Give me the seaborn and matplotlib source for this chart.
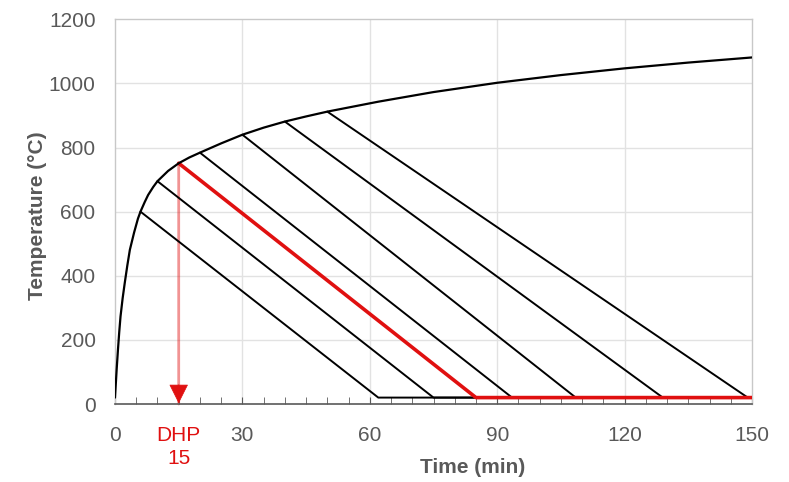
import matplotlib
matplotlib.use("Agg")
import matplotlib.pyplot as plt
import seaborn as sns
import numpy as np
import pandas as pd

# Heating curve
heat_time = [0, 0.4, 0.7, 1.0, 1.3, 1.8, 2.3, 2.9, 3.5, 4.5, 5.4, 6.0, 7.0, 7.8, 9.0, 10.0, 12.5, 15.0, 17.5, 20.0, 25.0, 30.0, 35.0, 40.0, 45.0, 50.0, 62.0, 75.0, 90.0, 105.0, 120.0, 135.0, 150.0]
heat_temp = [20, 110, 170, 225, 273, 330, 378, 432, 481, 535, 578, 600, 630, 652, 677, 695, 727, 751, 769, 784, 813, 840, 862, 881, 897, 912, 943, 973, 1002, 1026, 1047, 1065, 1081]

# Cooling branches: start of cooling (time, temp) and time at which ambient is reached
cool_start_time = [6, 10, 15, 20, 30, 40, 50]
cool_start_temp = [600, 695, 751, 784, 840, 881, 912]
cool_end_time = [62, 75, 85, 93.5, 108.5, 129, 149]
ambient = 20
end_time = 150
dhp = 15

x_ticks = [0, 30, 60, 90, 120, 150]
y_ticks = [0, 200, 400, 600, 800, 1000, 1200]

sns.set_style("white")
plt.rcParams['font.family'] = ['Liberation Sans', 'DejaVu Sans']

RED = "#e01010"
GRAY = "#595959"

fig = plt.figure(figsize=(7.89, 4.82), dpi=100)
ax = fig.add_axes([115/789, 1-404/482, 637/789, (404-19.3)/482])

# grid
for xv in x_ticks[1:-1]:
    ax.axvline(xv, color="#e2e2e2", lw=1, zorder=0)
for yv in y_ticks[1:-1]:
    ax.axhline(yv, color="#e2e2e2", lw=1, zorder=0)

# cooling branches
for st, sT, et in zip(cool_start_time, cool_start_temp, cool_end_time):
    is_dhp = st == dhp
    df = pd.DataFrame({"time": [st, et, end_time], "temp": [sT, ambient, ambient]})
    sns.lineplot(data=df, x="time", y="temp", sort=False, ax=ax,
                 color=RED if is_dhp else "black",
                 lw=2.6 if is_dhp else 1.4, zorder=4 if is_dhp else 3)

# heating curve
sns.lineplot(x=heat_time, y=heat_temp, sort=False, ax=ax, color="black", lw=1.6, zorder=5)

# DHP arrow
i = cool_start_time.index(dhp)
ax.annotate("", xy=(dhp, 0), xytext=(dhp, cool_start_temp[i]),
            arrowprops=dict(arrowstyle="-", color=RED, lw=2, alpha=0.45, shrinkA=0, shrinkB=0), zorder=2)
ax.annotate("", xy=(dhp, 2), xytext=(dhp, 60),
            arrowprops=dict(arrowstyle="-|>,head_length=0.9,head_width=0.45", color=RED, lw=0.5,
                            mutation_scale=14, shrinkA=0, shrinkB=0), zorder=6)

ax.set_xlim(0, 150)
ax.set_ylim(0, 1200)
ax.set_xticks(x_ticks)
ax.set_xticks(np.arange(0, 151, 5), minor=True)
ax.set_yticks(y_ticks)
ax.tick_params(axis="x", which="both", direction="in", length=5, color=GRAY, pad=16,
               labelsize=15, labelcolor=GRAY, bottom=True)
ax.tick_params(axis="y", length=0, pad=14, labelsize=15, labelcolor=GRAY)

ax.text(dhp, -0.057, f"DHP\n{dhp}", transform=ax.get_xaxis_transform(), ha="center", va="top",
        color=RED, fontsize=15, linespacing=1.3)

ax.set_xlabel("Time (min)", fontsize=15, fontweight="bold", color=GRAY)
ax.set_ylabel("Temperature (\u00b0C)", fontsize=15, fontweight="bold", color=GRAY)
ax.xaxis.set_label_coords((473-115)/637, -0.14)
ax.yaxis.set_label_coords(-0.107, 0.49)

for s in ["left", "top", "right"]:
    ax.spines[s].set_color("#c8c8c8")
    ax.spines[s].set_linewidth(1)
ax.spines["bottom"].set_color(GRAY)
ax.spines["bottom"].set_linewidth(1.2)

fig.savefig("out.png", dpi=100)
